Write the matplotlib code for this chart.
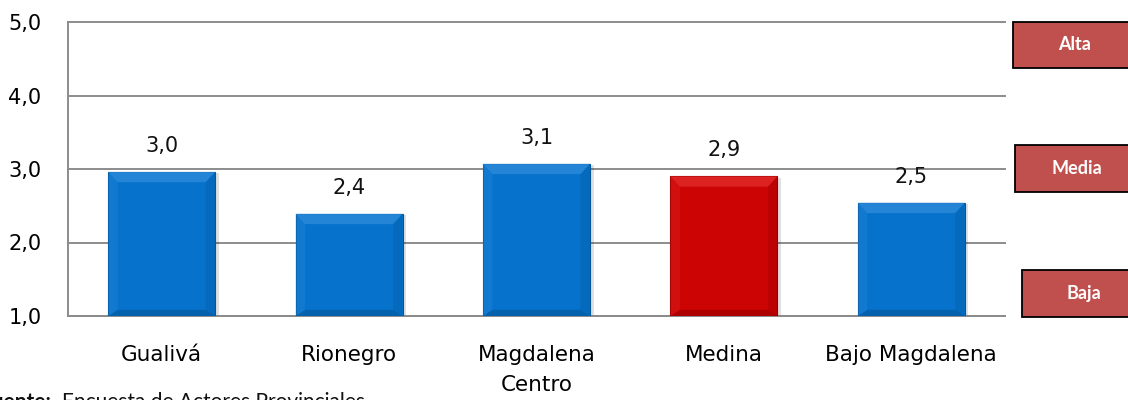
import matplotlib
matplotlib.use("Agg")
import matplotlib.pyplot as plt
from matplotlib.patches import Rectangle, Polygon

regions = ["Gualivá", "Rionegro", "Magdalena\nCentro", "Medina", "Bajo Magdalena"]
scores = [2.96, 2.39, 3.07, 2.90, 2.54]
highlight = "Medina"
y_ticks = [1.0, 2.0, 3.0, 4.0, 5.0]
levels = ["Alta", "Media", "Baja"]

W, H = 1128, 400
fig = plt.figure(figsize=(W / 100, H / 100), dpi=100)
ax = fig.add_axes([68 / W, 1 - 316 / H, (1005 - 68) / W, (316 - 22) / H])

blue, blue_dark, blue_light = "#0672CB", "#04579C", "#2C8BDB"
red, red_dark, red_light = "#CC0404", "#9A0000", "#E22A2A"
grid_col = "#8C8C8C"

width = 0.57
base = 1.0
for i, (name, v) in enumerate(zip(regions, scores)):
    if name.replace("\n", " ") == highlight:
        c, cd, cl = red, red_dark, red_light
    else:
        c, cd, cl = blue, blue_dark, blue_light
    x0, x1 = i - width / 2, i + width / 2
    # soft drop shadow
    ax.add_patch(Rectangle((x0 + 0.02, base), width, v - base - 0.02,
                           facecolor="#000000", alpha=0.12, edgecolor="none", zorder=2))
    ax.bar(i, v - base, width=width, bottom=base, color=c, edgecolor=cd,
           linewidth=0.8, zorder=3)
    # bevel edges
    dx, dy = 0.05, 0.14
    ax.add_patch(Polygon([(x0, v), (x1, v), (x1 - dx, v - dy), (x0 + dx, v - dy)],
                         closed=True, facecolor=cl, edgecolor="none", alpha=0.8, zorder=4))
    ax.add_patch(Polygon([(x0, base), (x1, base), (x1 - dx, base + dy * 0.6), (x0 + dx, base + dy * 0.6)],
                         closed=True, facecolor=cd, edgecolor="none", alpha=0.6, zorder=4))
    ax.add_patch(Polygon([(x1, v), (x1, base), (x1 - dx, base + dy * 0.6), (x1 - dx, v - dy)],
                         closed=True, facecolor=cd, edgecolor="none", alpha=0.3, zorder=4))
    ax.add_patch(Polygon([(x0, v), (x0, base), (x0 + dx, base + dy * 0.6), (x0 + dx, v - dy)],
                         closed=True, facecolor=cl, edgecolor="none", alpha=0.3, zorder=4))
    ax.text(i, v + 0.22, f"{v:.1f}".replace(".", ","), ha="center", va="bottom",
            fontsize=15, family="DejaVu Sans", color="#111111", zorder=5)

ax.set_xlim(-0.5, len(regions) - 0.5)
ax.set_ylim(1.0, 5.0)
ax.set_yticks(y_ticks)
ax.set_yticklabels([f"{t:.1f}".replace(".", ",") for t in y_ticks],
                   fontsize=15, family="DejaVu Sans")
ax.set_xticks(range(len(regions)))
ax.set_xticklabels(regions, fontsize=15.5, family="DejaVu Sans", linespacing=1.6)
ax.tick_params(axis="both", length=0)
ax.tick_params(axis="x", pad=21)
ax.tick_params(axis="y", pad=19)
for t in y_ticks:
    ax.axhline(t, color=grid_col, linewidth=1.4, zorder=0, clip_on=False)
for s in ["top", "right"]:
    ax.spines[s].set_visible(False)
for s in ["left", "bottom"]:
    ax.spines[s].set_color(grid_col)
    ax.spines[s].set_linewidth(1.4)

# level boxes on the right
boxes = [(1013, 22, 68), (1015, 145, 192), (1022, 270, 317)]
for label, (xl, yt, yb) in zip(levels, boxes):
    fig.patches.append(Rectangle((xl / W, 1 - yb / H), (W + 5 - xl) / W, (yb - yt) / H,
                                 transform=fig.transFigure, facecolor="#C0504D",
                                 edgecolor="#000000", linewidth=1.3))
    fig.text((xl + 62) / W, 1 - (yt + yb) / 2 / H, label, ha="center", va="center",
             color="white", fontsize=13, fontweight="bold", family="Lato")

fig.text(51 / W, -8 / H, "Fuente:", ha="right", va="baseline", fontsize=15,
         fontweight="bold", family="Lato", color="#111111")
fig.text(62 / W, -8 / H, "Encuesta de Actores Provinciales", ha="left", va="baseline",
         fontsize=15, family="Lato", color="#111111")

fig.savefig("out.png", dpi=100)
